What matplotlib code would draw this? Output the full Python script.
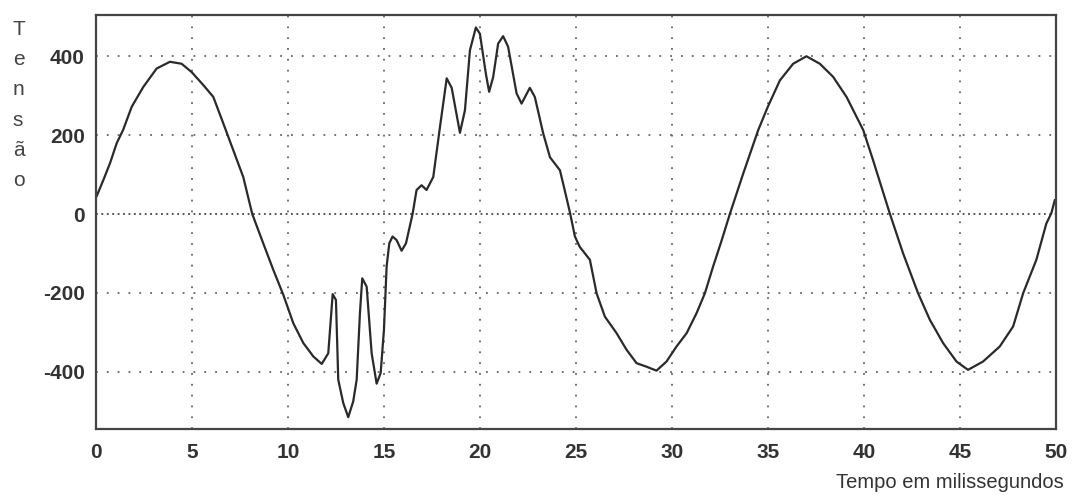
import matplotlib.pyplot as plt

# Values (time in ms, voltage)
tempo_ms = [0.04, 0.38, 0.73, 1.08, 1.41, 1.86, 2.46, 3.16, 3.85, 4.46, 4.98,
            5.59, 6.11, 6.63, 7.15, 7.67, 8.14, 8.71, 9.24, 9.76, 10.28, 10.8,
            11.32, 11.76, 12.1, 12.33, 12.5, 12.62, 12.88, 13.14, 13.4, 13.58,
            13.75, 13.87, 14.1, 14.36, 14.62, 14.83, 15.0, 15.14, 15.28, 15.45,
            15.66, 15.92, 16.15, 16.5, 16.7, 16.96, 17.22, 17.57, 17.92, 18.27,
            18.53, 18.96, 19.22, 19.48, 19.79, 20.0, 20.31, 20.48, 20.69, 20.95,
            21.21, 21.47, 21.91, 22.17, 22.6, 22.86, 23.3, 23.65, 24.17, 24.42,
            24.7, 24.95, 25.2, 25.73, 26.08, 26.51, 27.12, 27.64, 28.16, 28.68,
            29.2, 29.72, 30.24, 30.77, 31.29, 31.72, 32.15, 32.6, 33.02, 33.72,
            34.5, 35.0, 35.63, 36.32, 37.01, 37.71, 38.4, 39.1, 39.97, 40.48,
            41.35, 42.05, 42.83, 43.44, 44.13, 44.83, 45.43, 46.21, 47.08, 47.78,
            48.3, 48.99, 49.51, 49.77, 49.95]
tensao = [46, 86, 129, 180, 213, 272, 322, 369, 386, 381, 360,
          327, 297, 230, 162, 94, 0, -74, -142, -205, -277, -327,
          -361, -380, -353, -203, -218, -420, -479, -515, -475, -420,
          -251, -163, -184, -353, -430, -403, -294, -133, -74, -57,
          -66, -93, -74, 2, 61, 73, 61, 94, 221, 344,
          320, 206, 263, 415, 473, 457, 356, 310, 347, 432,
          451, 424, 306, 280, 320, 297, 204, 144, 111, 60,
          2, -57, -83, -116, -201, -260, -302, -344, -378, -387,
          -397, -374, -336, -302, -251, -201, -133, -66, 0, 103,
          213, 272, 339, 381, 400, 381, 348, 297, 213, 137,
          2, -100, -201, -268, -327, -374, -395, -374, -336, -285,
          -201, -116, -24, 2, 35]

x_ticks = [0, 5, 10, 15, 20, 25, 30, 35, 40, 45, 50]
y_ticks = [-400, -200, 0, 200, 400]

plt.rcParams['font.family'] = ['Liberation Sans', 'DejaVu Sans']
plt.rcParams['axes.unicode_minus'] = False

fig = plt.figure(figsize=(10.74, 4.95), dpi=100)
ax = fig.add_axes([0.0894, 0.1333, 0.8936, 0.8367])

ax.plot(tempo_ms, tensao, color='#2a2a2a', lw=1.6)

ax.set_xlim(0, 50)
ax.set_ylim(-545, 505)
ax.set_xticks(x_ticks)
ax.set_yticks(y_ticks)
ax.tick_params(length=0, labelsize=15, colors='#333333')
ax.tick_params(axis='x', pad=10)
ax.tick_params(axis='y', pad=8)
for lab in ax.get_xticklabels() + ax.get_yticklabels():
    lab.set_fontweight('bold')

# dotted grid, the zero line denser than the rest
for x in x_ticks[1:-1]:
    ax.axvline(x, color='#666666', lw=1.3, ls=(0, (1, 5)), zorder=0)
for y in y_ticks:
    if y == 0:
        ax.axhline(y, color='#444444', lw=1.3, ls=(0, (1, 2)), zorder=0)
    else:
        ax.axhline(y, color='#666666', lw=1.3, ls=(0, (1, 5)), zorder=0)

for s in ax.spines.values():
    s.set_color('#444444')
    s.set_linewidth(1.6)

fig.text(0.012, 0.96, 'T\ne\nn\ns\nã\no', ha='left', va='top',
         fontsize=15, color='#444444', linespacing=1.75)
fig.text(0.99, 0.006, 'Tempo em milissegundos', ha='right', va='bottom',
         fontsize=14.5, color='#333333')

plt.savefig('out.png', dpi=100)
